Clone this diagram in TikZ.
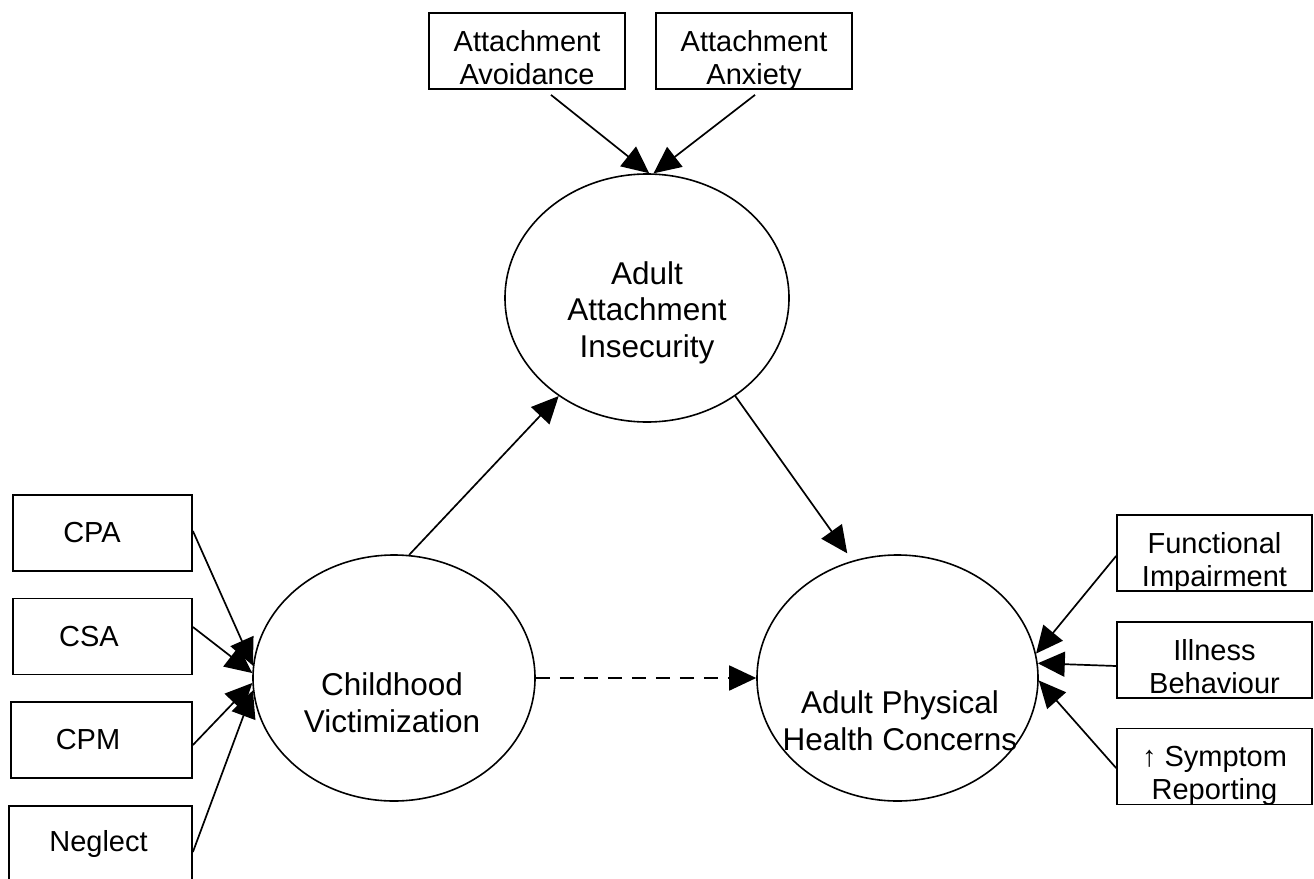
\documentclass[tikz,border=0pt]{standalone}
\usepackage{fontspec}
\setmainfont{Liberation Sans}
\usetikzlibrary{arrows.meta,shapes.geometric}

\begin{document}
\begin{tikzpicture}[x=1pt,y=-1pt,
  every node/.style={inner sep=0pt},
  box/.style={draw, line width=1.8pt, rectangle, minimum height=76pt,
    font=\fontsize{29pt}{33pt}\selectfont, align=center},
  twoline/.style={text height=66pt, text depth=0pt},
  latent/.style={draw, line width=1.6pt, ellipse},
  latenttext/.style={font=\fontsize{31.5pt}{36.5pt}\selectfont, align=center, anchor=base},
  link/.style={line width=1.7pt, -{Triangle[length=27pt,width=25pt]}},
  ]
\useasboundingbox (0,0) rectangle (1314,878);
\clip (0,0) rectangle (1314,878);

% indicators of attachment insecurity
\node[box, twoline, minimum width=196pt] (avoid) at (527,51) {Attachment\\Avoidance};
\node[box, twoline, minimum width=196pt] (anx) at (754,51) {Attachment\\Anxiety};

% latent constructs (text nodes are placed by the baseline of their last line)
\node[latent, minimum width=284pt, minimum height=248pt] (ins) at (647,298) {};
\node[latenttext] (ins-t) at (647,357) {Adult\\Attachment\\Insecurity};

\node[latent, minimum width=282pt, minimum height=246pt] (vic) at (394,678) {};
\node[latenttext] (vic-t) at (392,732) {Childhood\\Victimization};

\node[latent, minimum width=281pt, minimum height=246pt] (hea) at (897.5,678) {};
\node[latenttext] (hea-t) at (900,750) {Adult Physical\\Health Concerns};

% indicators of childhood victimization
\node[box, minimum width=179pt] (cpa) at (102.5,533) {\kern-21pt CPA};
\node[box, minimum width=179pt] (csa) at (102.5,636.5) {\kern-27pt CSA};
\node[box, minimum width=181pt] (cpm) at (101.5,740) {\kern-27pt CPM};
\node[box, minimum width=183pt] (neg) at (100.5,844) {\kern-4pt Neglect};

% indicators of physical health concerns
\node[box, twoline, minimum width=195pt] (fi) at (1214.5,553) {Functional\\Impairment};
\node[box, twoline, minimum width=195pt] (ib) at (1214.5,660) {Illness\\Behaviour};
\node[box, twoline, minimum width=195pt] (sr) at (1214.5,766.5) {↑ Symptom\\Reporting};

% measurement paths
\draw[link] ([xshift=24pt,yshift=-5pt]avoid.south) -- (ins.89);
\draw[link] ([xshift=1pt,yshift=-5pt]anx.south) -- (ins.87);

\draw[link] ([yshift=2pt]cpa.east) -- (vic.175);
\draw[link] ([yshift=9.5pt]csa.east) -- (vic.178);
\draw[link] ([yshift=-5pt]cpm.east) -- (vic.182);
\draw[link] ([yshift=-8pt]neg.east) -- (vic.185);

\draw[link] ([yshift=-3pt]fi.west) -- (hea.10);
\draw[link] ([yshift=-6pt]ib.west) -- (hea.6);
\draw[link] ([yshift=-1.5pt]sr.west) -- (hea.-1);

% structural paths
\draw[link] (vic.83) -- (ins.228);
\draw[link, shorten >=9pt] (ins.312) -- (hea.111);
\draw[link, dash pattern=on 14pt off 10pt] (vic.east) -- (hea.west);
\end{tikzpicture}
\end{document}
